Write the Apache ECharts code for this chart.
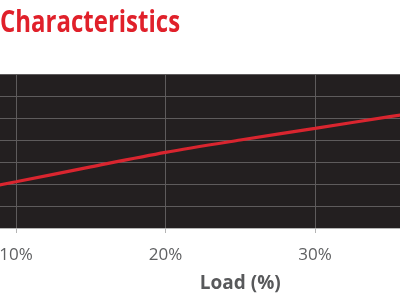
<!DOCTYPE html>
<html>
<head>
<meta charset="utf-8">
<style>html,body{margin:0;padding:0;background:#fff;}#c{width:400px;height:300px;}</style>
<script src="https://cdn.jsdelivr.net/npm/echarts@6/dist/echarts.min.js"></script>
</head>
<body>
<div id="c"></div>
<script>
var titleText = 'Characteristics';
var xName = 'Load (%)';
var loadPct = [5, 10, 15, 20, 25, 30, 35, 40];
var curveValues = [1.45, 2.1, 2.78, 3.44, 4.0, 4.53, 5.06, 5.55];

var chart = echarts.init(document.getElementById('c'), null, {renderer: 'canvas'});
chart.setOption({
  animation: false,
  backgroundColor: '#ffffff',
  graphic: [{
    type: 'text', left: 0, top: 8, scaleX: 0.8, originX: 0,
    style: {text: titleText, fill: '#e0202a', fontSize: 30, fontWeight: 'bold', fontFamily: "'Open Sans', sans-serif"}
  }],
  grid: {left: -133.5, top: 74, width: 747.5, height: 154, backgroundColor: '#231f20', show: true, borderWidth: 0, outerBoundsMode: 'none', containLabel: false},
  xAxis: {
    type: 'value', min: 0, max: 50, interval: 10,
    name: xName, nameLocation: 'middle', nameGap: 46,
    nameTextStyle: {color: '#58595b', fontSize: 19, fontWeight: 'bold', fontFamily: "'Open Sans', sans-serif"},
    axisLine: {show: true, lineStyle: {color: '#b5b5b5', width: 1}},
    axisTick: {show: true, length: 5, lineStyle: {color: '#b5b5b5'}},
    axisLabel: {color: '#5f6062', fontSize: 17, margin: 19, fontFamily: "'Open Sans', sans-serif", formatter: function (v) { return v + '%'; }},
    splitLine: {show: true, lineStyle: {color: '#5e5b5c', width: 1}}
  },
  yAxis: {
    type: 'value', min: 0, max: 7, interval: 1,
    axisLine: {show: false}, axisTick: {show: false}, axisLabel: {show: false},
    splitLine: {show: true, lineStyle: {color: '#5e5b5c', width: 1}}
  },
  series: [{
    type: 'line',
    data: loadPct.map(function (x, i) { return [x, curveValues[i]]; }),
    smooth: 0.3, showSymbol: false,
    lineStyle: {color: '#d9252f', width: 3.2}
  }]
});
</script>
</body>
</html>
